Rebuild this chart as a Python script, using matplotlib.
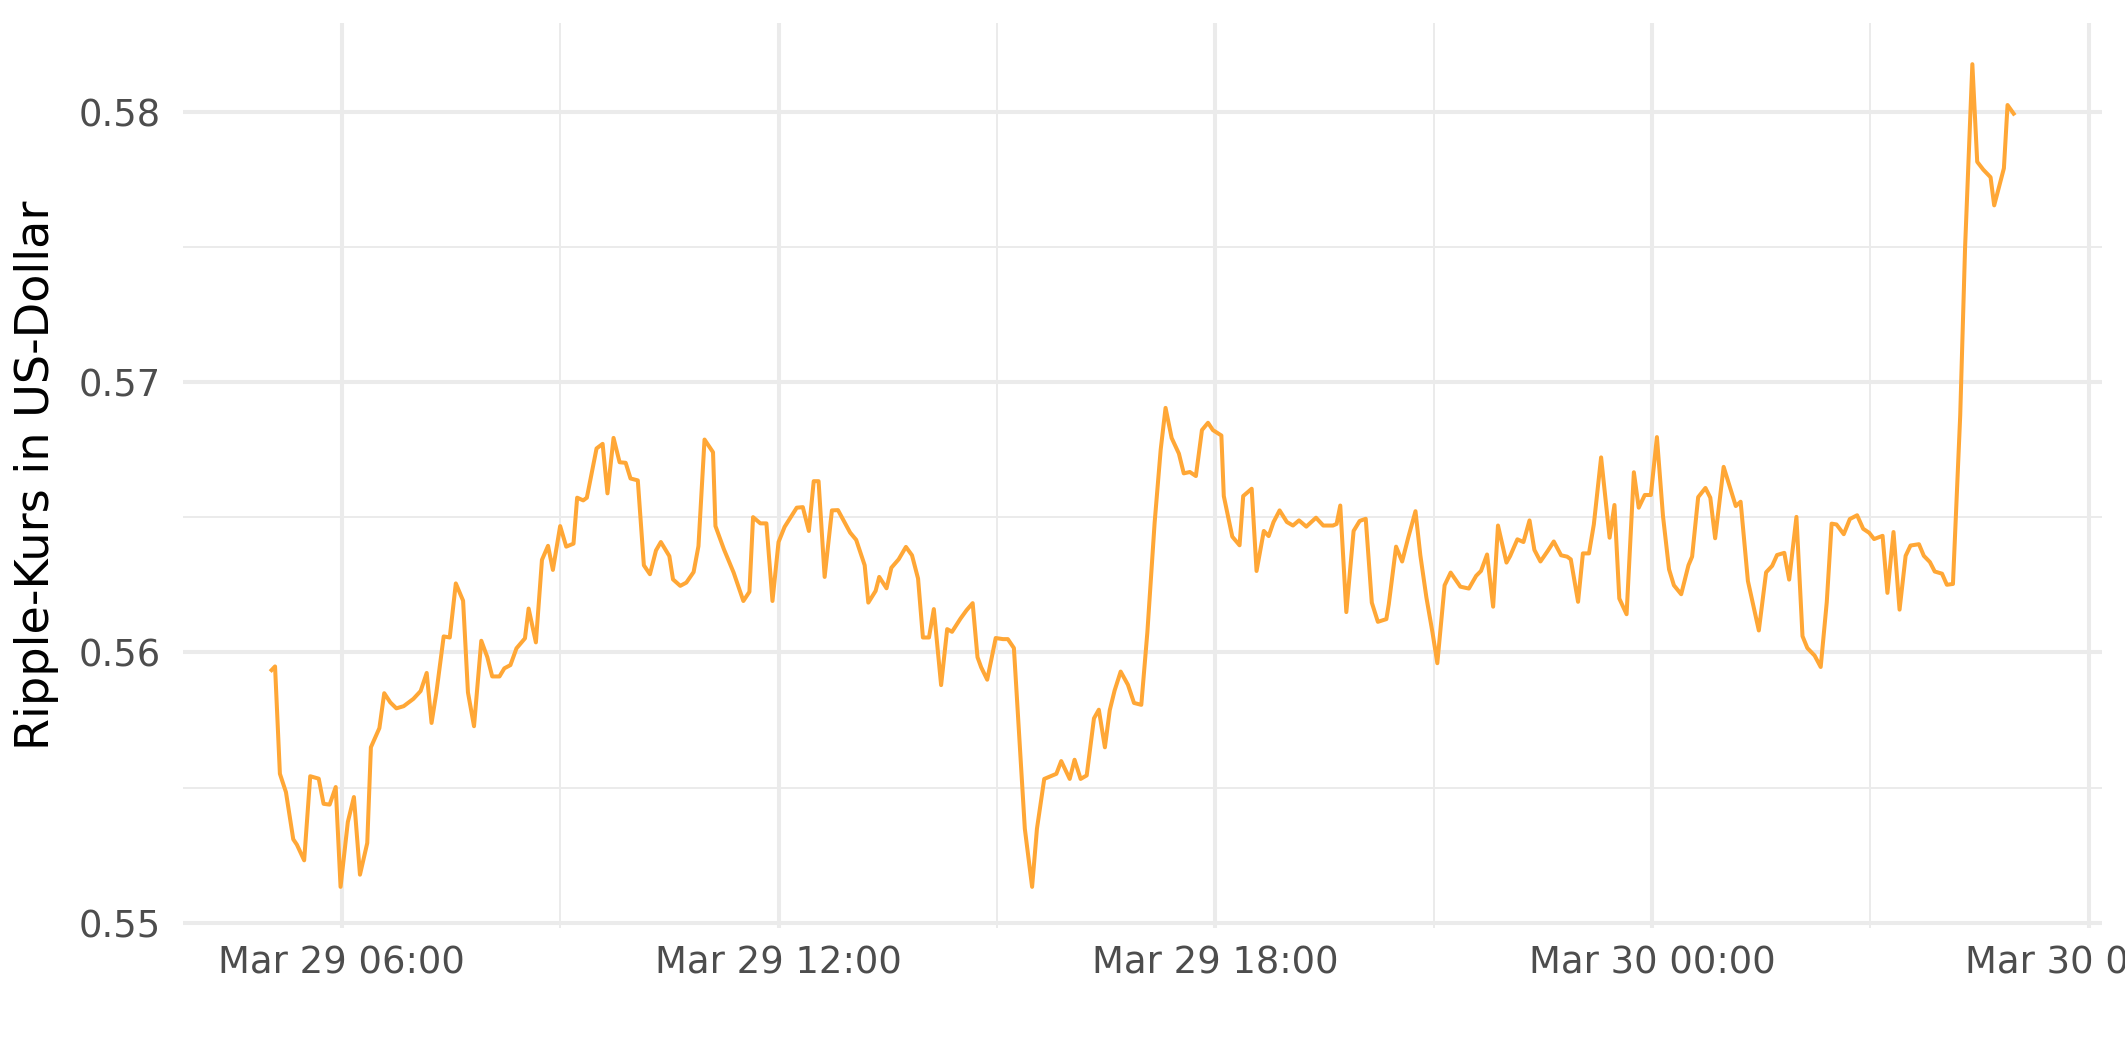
import datetime as dt

import matplotlib
matplotlib.use("Agg")
import matplotlib.pyplot as plt
import matplotlib.dates as mdates
from matplotlib.ticker import MultipleLocator

# minutes after Mar 29 00:00 (~5 min steps)
minutes = [
    301, 305, 309, 314, 320, 323, 329, 334, 341, 345, 350, 355, 359, 365, 370,
    375, 381, 384, 391, 395, 400, 405, 411, 419, 425, 430, 434, 438, 444, 449,
    454, 460, 464, 469, 475, 480, 484, 490, 494, 499, 504, 511, 514, 520, 525,
    530, 534, 540, 545, 551, 554, 559, 562, 570, 575, 579, 584, 589, 594, 598,
    604, 609, 614, 619, 623, 630, 633, 639, 644, 650, 654, 659, 666, 668, 675,
    683, 691, 696, 699, 705, 710, 715, 720, 725, 735, 740, 745, 749, 753, 758,
    764, 769, 779, 784, 791, 794, 800, 803, 809, 813, 819, 825, 830, 835, 839,
    844, 848, 854, 859, 863, 870, 875, 880, 884, 887, 892, 899, 905, 909, 914,
    923, 929, 933, 939, 949, 953, 960, 964, 969, 974, 980, 984, 989, 993, 997,
    1002, 1008, 1013, 1019, 1024, 1030, 1035, 1039, 1044, 1050, 1054, 1059,
    1064, 1069, 1074, 1078, 1085, 1087, 1094, 1100, 1103, 1110, 1114, 1120,
    1124, 1128, 1133, 1139, 1144, 1149, 1155, 1163, 1169, 1177, 1180, 1183,
    1188, 1194, 1199, 1204, 1209, 1214, 1221, 1223, 1229, 1234, 1239, 1245,
    1249, 1254, 1259, 1263, 1269, 1274, 1282, 1289, 1295, 1299, 1304, 1309,
    1313, 1320, 1323, 1329, 1334, 1339, 1343, 1348, 1354, 1359, 1365, 1370,
    1373, 1379, 1383, 1388, 1392, 1398, 1405, 1409, 1413, 1419, 1425, 1429,
    1434, 1439, 1444, 1449, 1454, 1458, 1464, 1470, 1473, 1478, 1484, 1488,
    1492, 1499, 1509, 1513, 1519, 1528, 1534, 1539, 1543, 1549, 1553, 1559,
    1564, 1568, 1574, 1579, 1584, 1588, 1592, 1598, 1603, 1609, 1614, 1619,
    1623, 1630, 1634, 1639, 1644, 1649, 1653, 1660, 1664, 1669, 1673, 1679,
    1683, 1688, 1694, 1698, 1704, 1708, 1713, 1719, 1722, 1730, 1733, 1739,
]

prices = [
    0.55929, 0.55948, 0.55551, 0.55483, 0.55309, 0.55289, 0.55231, 0.55542,
    0.55533, 0.55440, 0.55437, 0.55502, 0.55133, 0.55373, 0.55465, 0.55178,
    0.55295, 0.55649, 0.55720, 0.55849, 0.55815, 0.55793, 0.55801, 0.55828,
    0.55857, 0.55924, 0.55739, 0.55852, 0.56059, 0.56055, 0.56255, 0.56191,
    0.55852, 0.55727, 0.56043, 0.55982, 0.55911, 0.55911, 0.55941, 0.55953,
    0.56015, 0.56052, 0.56162, 0.56037, 0.56342, 0.56394, 0.56305, 0.56467,
    0.56391, 0.56402, 0.56572, 0.56562, 0.56572, 0.56754, 0.56771, 0.56588,
    0.56793, 0.56703, 0.56701, 0.56643, 0.56636, 0.56322, 0.56289, 0.56377,
    0.56408, 0.56356, 0.56270, 0.56246, 0.56258, 0.56297, 0.56393, 0.56787,
    0.56740, 0.56467, 0.56381, 0.56295, 0.56190, 0.56224, 0.56500, 0.56477,
    0.56477, 0.56190, 0.56408, 0.56464, 0.56535, 0.56537, 0.56449, 0.56633,
    0.56633, 0.56279, 0.56525, 0.56526, 0.56443, 0.56416, 0.56322, 0.56184,
    0.56227, 0.56279, 0.56237, 0.56313, 0.56344, 0.56390, 0.56359, 0.56273,
    0.56055, 0.56055, 0.56160, 0.55879, 0.56086, 0.56076, 0.56125, 0.56156,
    0.56182, 0.55982, 0.55945, 0.55899, 0.56053, 0.56049, 0.56049, 0.56016,
    0.55348, 0.55133, 0.55348, 0.55532, 0.55551, 0.55598, 0.55532, 0.55603,
    0.55532, 0.55545, 0.55756, 0.55788, 0.55649, 0.55786, 0.55859, 0.55929,
    0.55880, 0.55813, 0.55806, 0.56074, 0.56480, 0.56750, 0.56904, 0.56793,
    0.56735, 0.56662, 0.56667, 0.56652, 0.56822, 0.56849, 0.56822, 0.56802,
    0.56578, 0.56428, 0.56396, 0.56578, 0.56605, 0.56301, 0.56449, 0.56430,
    0.56482, 0.56525, 0.56482, 0.56469, 0.56488, 0.56465, 0.56498, 0.56469,
    0.56469, 0.56475, 0.56543, 0.56149, 0.56449, 0.56486, 0.56494, 0.56184,
    0.56113, 0.56123, 0.56178, 0.56391, 0.56336, 0.56424, 0.56522, 0.56359,
    0.56203, 0.56074, 0.55960, 0.56248, 0.56295, 0.56243, 0.56236, 0.56283,
    0.56301, 0.56362, 0.56169, 0.56469, 0.56332, 0.56356, 0.56418, 0.56408,
    0.56488, 0.56379, 0.56336, 0.56375, 0.56410, 0.56359, 0.56354, 0.56344,
    0.56187, 0.56366, 0.56366, 0.56473, 0.56721, 0.56424, 0.56545, 0.56199,
    0.56141, 0.56666, 0.56535, 0.56582, 0.56582, 0.56796, 0.56504, 0.56307,
    0.56248, 0.56215, 0.56322, 0.56354, 0.56574, 0.56608, 0.56572, 0.56422,
    0.56686, 0.56541, 0.56557, 0.56264, 0.56081, 0.56296, 0.56320, 0.56360,
    0.56368, 0.56269, 0.56501, 0.56060, 0.56016, 0.55988, 0.55946, 0.56186,
    0.56476, 0.56473, 0.56437, 0.56493, 0.56507, 0.56457, 0.56442, 0.56419,
    0.56431, 0.56220, 0.56445, 0.56158, 0.56357, 0.56395, 0.56400, 0.56357,
    0.56334, 0.56299, 0.56291, 0.56250, 0.56253, 0.56877, 0.57497, 0.58175,
    0.57814, 0.57785, 0.57757, 0.57653, 0.57790, 0.58024, 0.57986,
]

start = dt.datetime(2023, 3, 29)
times = [start + dt.timedelta(minutes=m) for m in minutes]

plt.rcParams['font.family'] = ['DejaVu Sans']

fig = plt.figure(figsize=(10.625, 5.31), dpi=200)
ax = fig.add_axes([0.0861, 0.1262, 0.9031, 0.8521])

ax.plot(times, prices, color='#FFA736', lw=1.45,
        solid_joinstyle='round', solid_capstyle='butt')
ax.margins(x=0.05, y=0.05)

ax.xaxis.set_major_locator(mdates.HourLocator(byhour=[0, 6, 12, 18]))
ax.xaxis.set_minor_locator(mdates.HourLocator(byhour=[3, 9, 15, 21]))
ax.xaxis.set_major_formatter(mdates.DateFormatter('%b %d %H:%M'))
ax.yaxis.set_major_locator(MultipleLocator(0.01))
ax.yaxis.set_minor_locator(MultipleLocator(0.005))
ax.yaxis.set_major_formatter(plt.FuncFormatter(lambda v, p: f'{v:.2f}'))

ax.grid(which='major', color='#EBEBEB', lw=1.45)
ax.grid(which='minor', color='#EBEBEB', lw=0.72)
ax.set_axisbelow(True)
for s in ax.spines.values():
    s.set_visible(False)

ax.tick_params(which='both', length=0)
ax.tick_params(axis='x', labelsize=13.3, labelcolor='#4D4D4D', pad=6)
ax.tick_params(axis='y', labelsize=13.3, labelcolor='#4D4D4D', pad=8)
ax.set_ylabel('Ripple-Kurs in US-Dollar', fontsize=16.6, color='black', labelpad=7)

fig.savefig('out.png', dpi=200, facecolor='white')
